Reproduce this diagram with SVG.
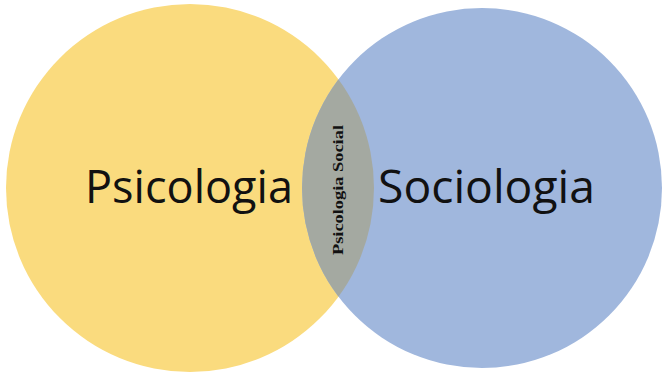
<svg xmlns="http://www.w3.org/2000/svg" width="662" height="373" viewBox="0 0 662 373">
<style>
.big{font-family:"Open Sans","Noto Sans","Liberation Sans",sans-serif;font-size:45px;fill:#111}
.small{font-family:"Liberation Serif","Times New Roman",serif;font-size:14px;font-weight:bold;fill:#111}
</style>
<defs>
<clipPath id="clipL"><circle cx="190" cy="188" r="184"/></clipPath>
</defs>
<rect width="662" height="373" fill="#ffffff"/>
<g id="psicologia">
<circle cx="190" cy="188" r="184" fill="#FADB7E"/>
<text class="big" x="85" y="203" textLength="208" lengthAdjust="spacingAndGlyphs">Psicologia</text>
</g>
<g id="sociologia">
<circle cx="482" cy="188" r="180" fill="#A0B7DD"/>
<text class="big" x="378" y="203" textLength="217" lengthAdjust="spacingAndGlyphs">Sociologia</text>
</g>
<g id="psicologia-social">
<circle cx="482" cy="188" r="180" fill="#A4A9A1" clip-path="url(#clipL)"/>
<text class="small" transform="translate(343,255) rotate(-90)" x="0" y="0" textLength="130" lengthAdjust="spacingAndGlyphs">Psicologia Social</text>
</g>
<g id="connectors"></g>
</svg>
